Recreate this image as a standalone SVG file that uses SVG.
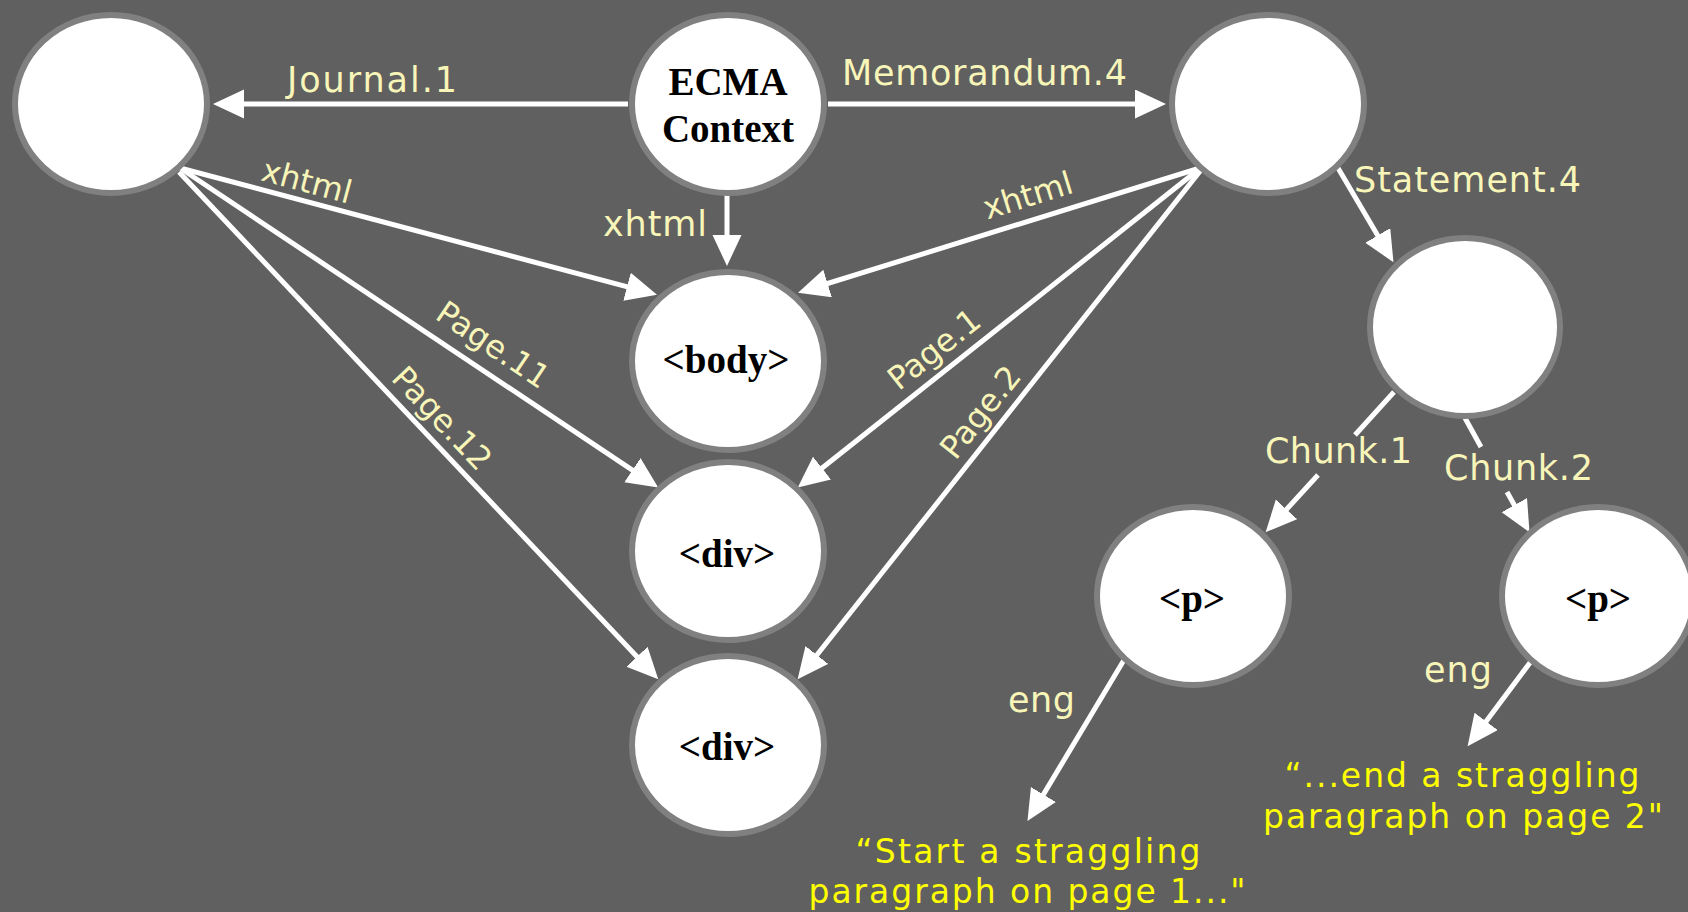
<svg xmlns="http://www.w3.org/2000/svg" width="1688" height="912" viewBox="0 0 1688 912">
  <defs>
    <style>
      .node { fill: #ffffff; stroke: #808080; stroke-width: 6; }
      .ntxt { font-family: "Liberation Serif", "Times New Roman", serif; font-weight: bold; font-size: 39px; fill: #000000; text-anchor: middle; }
      .edge { stroke: #ffffff; stroke-width: 5; fill: none; marker-end: url(#arrow); }
      .seg { stroke: #ffffff; stroke-width: 5; fill: none; }
      .lbl { font-family: "DejaVu Sans", Verdana, sans-serif; font-size: 35px; fill: #f8f5b9; }
      .rlbl { font-family: "DejaVu Sans", Verdana, sans-serif; font-size: 32px; fill: #f8f5b9; text-anchor: middle; }
      .quote { font-family: "DejaVu Sans", Verdana, sans-serif; font-size: 33px; fill: #ffff00; text-anchor: middle; }
    </style>
    <marker id="arrow" markerUnits="userSpaceOnUse" markerWidth="32" markerHeight="30" refX="22" refY="14.5" orient="auto">
      <path d="M0,0 L31,14.5 L0,29 Z" fill="#ffffff"/>
    </marker>
  </defs>

  <rect x="0" y="0" width="1688" height="912" fill="#606060"/>

  <!-- connectors -->
  <g id="edges">
    <line class="edge" x1="628" y1="104" x2="222" y2="104"/>
    <line class="edge" x1="828" y1="104" x2="1157" y2="104"/>
    <line class="edge" x1="727" y1="195" x2="727" y2="257"/>
    <line class="edge" x1="180" y1="168" x2="648.3" y2="292.4"/>
    <line class="edge" x1="183" y1="170" x2="650.7" y2="482.4"/>
    <line class="edge" x1="179" y1="172" x2="652.1" y2="672.7"/>
    <line class="edge" x1="1200" y1="168" x2="806.6" y2="290"/>
    <line class="edge" x1="1198" y1="170" x2="804.8" y2="481.8"/>
    <line class="edge" x1="1201" y1="170" x2="803.2" y2="672.2"/>
    <line class="edge" x1="1338" y1="168" x2="1388.9" y2="254.4"/>
    <!-- Chunk.1, broken around its label -->
    <line class="seg" x1="1394" y1="392" x2="1355" y2="435"/>
    <line class="edge" x1="1318" y1="475" x2="1271.7" y2="525.6"/>
    <!-- Chunk.2, broken around its label -->
    <line class="seg" x1="1465" y1="418" x2="1481" y2="447"/>
    <line class="edge" x1="1507" y1="492" x2="1525.1" y2="524.3"/>
    <line class="edge" x1="1124" y1="660" x2="1032.1" y2="813.4"/>
    <line class="edge" x1="1532" y1="660" x2="1473" y2="739"/>
  </g>

  <!-- edge labels -->
  <g id="edge-labels">
    <text class="lbl" x="287" y="92" textLength="170" lengthAdjust="spacing">Journal.1</text>
    <text class="lbl" x="842" y="85" textLength="285" lengthAdjust="spacing">Memorandum.4</text>
    <text class="lbl" x="603" y="236" textLength="104" lengthAdjust="spacing">xhtml</text>
    <text class="lbl" x="1354" y="192" textLength="227" lengthAdjust="spacing">Statement.4</text>
    <text class="lbl" x="1265" y="463" textLength="147" lengthAdjust="spacing">Chunk.1</text>
    <text class="lbl" x="1444" y="480" textLength="149" lengthAdjust="spacing">Chunk.2</text>
    <text class="lbl" x="1008" y="712" textLength="67" lengthAdjust="spacing">eng</text>
    <text class="lbl" x="1424" y="682" textLength="68" lengthAdjust="spacing">eng</text>
    <text class="rlbl" transform="translate(304,192) rotate(15)">xhtml</text>
    <text class="rlbl" transform="translate(487,354) rotate(34)">Page.11</text>
    <text class="rlbl" transform="translate(434,426) rotate(46.6)">Page.12</text>
    <text class="rlbl" transform="translate(1031,206) rotate(-17.2)">xhtml</text>
    <text class="rlbl" transform="translate(941,358) rotate(-38.4)">Page.1</text>
    <text class="rlbl" transform="translate(989,419) rotate(-51.6)">Page.2</text>
  </g>

  <!-- nodes -->
  <g id="journal"><ellipse class="node" cx="111" cy="104" rx="96" ry="89"/></g>
  <g id="ecma">
    <ellipse class="node" cx="728" cy="104" rx="96" ry="89"/>
    <text class="ntxt" x="728" y="95">ECMA</text>
    <text class="ntxt" x="728" y="142">Context</text>
  </g>
  <g id="memorandum"><ellipse class="node" cx="1268" cy="104" rx="96" ry="89"/></g>
  <g id="body">
    <ellipse class="node" cx="728" cy="361" rx="96" ry="89"/>
    <text class="ntxt" x="726" y="373">&lt;body&gt;</text>
  </g>
  <g id="div1">
    <ellipse class="node" cx="728" cy="551" rx="96" ry="89"/>
    <text class="ntxt" x="727" y="567" font-size="40">&lt;div&gt;</text>
  </g>
  <g id="div2">
    <ellipse class="node" cx="728" cy="745" rx="96" ry="89"/>
    <text class="ntxt" x="727" y="760" font-size="40">&lt;div&gt;</text>
  </g>
  <g id="statement"><ellipse class="node" cx="1465" cy="327" rx="95" ry="89"/></g>
  <g id="p1">
    <ellipse class="node" cx="1193" cy="596" rx="96" ry="89"/>
    <text class="ntxt" x="1192" y="612">&lt;p&gt;</text>
  </g>
  <g id="p2">
    <ellipse class="node" cx="1598" cy="596" rx="96" ry="89"/>
    <text class="ntxt" x="1598" y="612">&lt;p&gt;</text>
  </g>

  <!-- literal values -->
  <g id="quote1">
    <text class="quote" x="1028" y="863" textLength="345" lengthAdjust="spacing">“Start a straggling</text>
    <text class="quote" x="1027" y="903" textLength="437" lengthAdjust="spacing">paragraph on page 1..."</text>
  </g>
  <g id="quote2">
    <text class="quote" x="1462" y="787" textLength="355" lengthAdjust="spacing">“...end a straggling</text>
    <text class="quote" x="1463" y="828" textLength="400" lengthAdjust="spacing">paragraph on page 2"</text>
  </g>
</svg>
